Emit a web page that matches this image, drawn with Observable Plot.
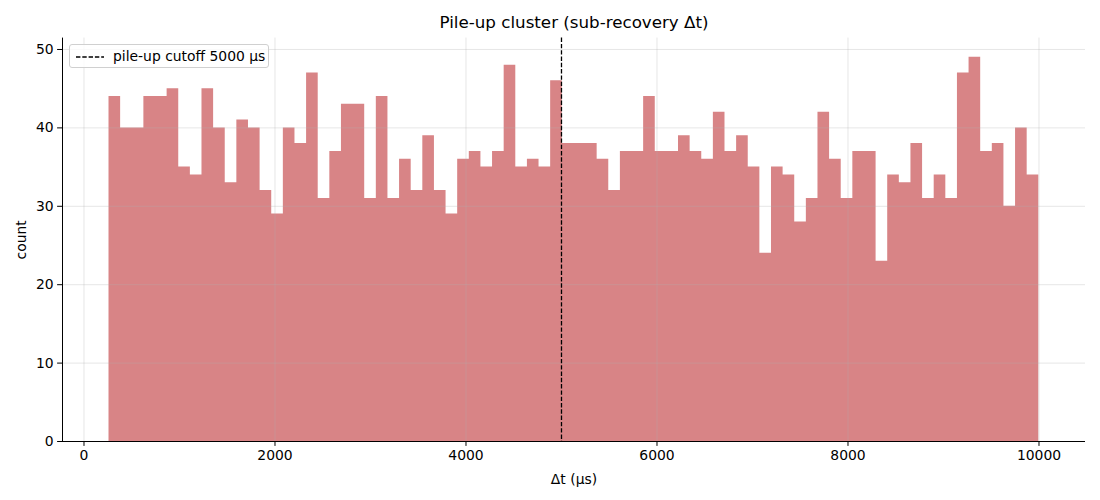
<!DOCTYPE html>
<html>
<head>
<meta charset="utf-8">
<script src="https://cdn.jsdelivr.net/npm/d3@7"></script>
<script src="https://cdn.jsdelivr.net/npm/@observablehq/plot@0.6"></script>
<style>
  body { margin: 0; background: #fff; font-family: "DejaVu Sans", sans-serif; }
  #wrap { position: relative; width: 1100px; height: 500px; }
  #legend {
    position: absolute; left: 69px; top: 44px; width: 200px; height: 24px;
    border: 1px solid #d0d0d0; border-radius: 3px; background: rgba(255,255,255,0.8);
    box-sizing: border-box; font-size: 13.9px; color: #000;
  }
  #legend svg { position: absolute; left: 5px; top: 11px; }
  #legend span { position: absolute; left: 43px; top: 3px; white-space: nowrap; }
</style>
</head>
<body>
<div id="wrap"></div>
<script>
// Histogram counts per bin (80 bins)
const counts = [44,40,40,44,44,45,35,34,45,40,33,41,40,32,29,40,38,47,31,37,
                43,43,31,44,31,36,32,39,32,29,36,37,35,37,48,35,36,35,46,38,
                38,38,36,32,37,37,44,37,37,39,37,36,42,37,39,35,24,35,34,28,
                31,42,36,31,37,37,23,34,33,38,31,34,31,47,49,37,38,30,40,34];
const binStart = 262;
const binEnd = 9998;
const cutoff = [5000];
const xTicks = [0, 2000, 4000, 6000, 8000, 10000];
const yTicks = [0, 10, 20, 30, 40, 50];
const title = "Pile-up cluster (sub-recovery Δt)";
const xLabel = "Δt (µs)";
const yLabel = "count";
const legendLabel = "pile-up cutoff 5000 µs";

const binWidth = (binEnd - binStart) / counts.length;
// step outline: each bin's left edge with its count, plus the final right edge
const steps = counts.map((c, i) => ({x: binStart + i * binWidth, count: c}));
steps.push({x: binEnd, count: counts[counts.length - 1]});

const xDomain = [-225, 10487];
const yDomain = [0, 51.45];

const chart = Plot.plot({
  width: 1100,
  height: 500,
  marginLeft: 62,
  marginRight: 15,
  marginTop: 37.6,
  marginBottom: 59,
  style: {fontFamily: "DejaVu Sans, sans-serif", fontSize: "13.9px", color: "#000", background: "#fff"},
  x: {domain: xDomain},
  y: {domain: yDomain},
  marks: [
    Plot.areaY(steps, {x: "x", y1: 0, y2: "count", curve: "step-after", fill: "#d88486"}),
    Plot.gridX(xTicks, {stroke: "#b0b0b0", strokeOpacity: 0.4, strokeWidth: 0.8}),
    Plot.gridY(yTicks, {stroke: "#b0b0b0", strokeOpacity: 0.4, strokeWidth: 0.8}),
    Plot.ruleX(cutoff, {stroke: "#000", strokeWidth: 1.3, strokeDasharray: "4.4,1.9"}),
    Plot.ruleY([yDomain[0]], {stroke: "#000", strokeWidth: 1}),
    Plot.ruleX([xDomain[0]], {stroke: "#000", strokeWidth: 1}),
    Plot.axisX(xTicks, {tickSize: 4.9, tickPadding: 4, tickFormat: "d", fontSize: "13.9px",
      label: xLabel, labelAnchor: "center", labelArrow: "none", labelOffset: 42}),
    Plot.axisY(yTicks, {tickSize: 4.9, tickPadding: 4, tickFormat: "d", fontSize: "13.9px",
      label: yLabel, labelAnchor: "center", labelArrow: "none", labelOffset: 46}),
    Plot.text([title], {frameAnchor: "top", dy: -15, fontSize: "16.7px", fill: "#000", lineAnchor: "middle"})
  ]
});

const wrap = document.getElementById("wrap");
wrap.appendChild(chart);
const legend = document.createElement("div");
legend.id = "legend";
legend.innerHTML = '<svg width="30" height="4"><line x1="1" y1="1" x2="29" y2="1" stroke="#000" stroke-width="1.3" stroke-dasharray="4.4,1.9"/></svg><span></span>';
legend.querySelector("span").textContent = legendLabel;
wrap.appendChild(legend);
</script>
</body>
</html>
